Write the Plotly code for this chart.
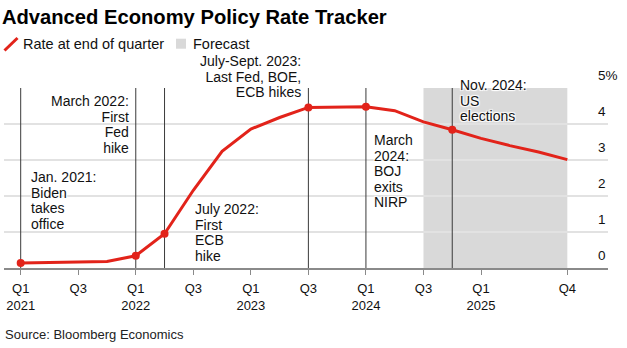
import plotly.graph_objects as go

# Quarterly policy-rate path (GDP-weighted advanced economies), %
quarters = [
    "Q1 2021", "Q2 2021", "Q3 2021", "Q4 2021",
    "Q1 2022", "Q2 2022", "Q3 2022", "Q4 2022",
    "Q1 2023", "Q2 2023", "Q3 2023", "Q4 2023",
    "Q1 2024", "Q2 2024", "Q3 2024", "Q4 2024",
    "Q1 2025", "Q2 2025", "Q3 2025", "Q4 2025",
]
rate = [
    0.14, 0.15, 0.16, 0.18,
    0.34, 0.95, 2.16, 3.24,
    3.86, 4.18, 4.46, 4.47,
    4.48, 4.37, 4.06, 3.84,
    3.60, 3.40, 3.22, 3.01,
]

forecast_start = "Q3 2024"
forecast_end = "Q4 2025"

event_quarters = ["Q1 2021", "Q1 2022", "Q2 2022", "Q3 2023", "Q1 2024", "Q4 2024"]
event_labels = [
    ["Jan. 2021:", "Biden", "takes", "office"],
    ["March 2022:", "First", "Fed", "hike"],
    ["July 2022:", "First", "ECB", "hike"],
    ["July-Sept. 2023:", "Last Fed, BOE,", "ECB hikes"],
    ["March", "2024:", "BOJ", "exits", "NIRP"],
    ["Nov. 2024:", "US", "elections"],
]

legend_names = ["Rate at end of quarter", "Forecast"]

x_tick_vals = ["Q1 2021", "Q3 2021", "Q1 2022", "Q3 2022", "Q1 2023",
               "Q3 2023", "Q1 2024", "Q3 2024", "Q1 2025", "Q4 2025"]
x_tick_text = ["Q1<br>2021", "Q3", "Q1<br>2022", "Q3", "Q1<br>2023",
               "Q3", "Q1<br>2024", "Q3", "Q1<br>2025", "Q4"]
y_tick_vals = [0, 1, 2, 3, 4, 5]
y_tick_text = ["0", "1", "2", "3", "4", "5%"]

RED = "#e2231a"
SHADE = "#d9d9d9"
FONT = "Liberation Sans, Arial, sans-serif"
INK = "#111111"
Y_TOP = 5

W, H = 627, 348
M = dict(l=4, r=19, t=88, b=80)
PW, PH = W - M["l"] - M["r"], H - M["t"] - M["b"]


def px(x):
    """Horizontal page pixel -> paper fraction."""
    return (x - M["l"]) / PW


def py(y):
    """Vertical page pixel (from top) -> paper fraction."""
    return (H - M["b"] - y) / PH


# Label placement for each event: anchor side, pixel offset from the event line, top of text (% units)
label_style = [
    ("left", 8, 2.80),
    ("right", -5, 4.92),
    ("left", 28, 1.93),
    ("right", -5, 6.03),
    ("left", 6, 3.82),
    ("left", 6, 5.36),
]

idx = {q: i for i, q in enumerate(quarters)}

fig = go.Figure()

# Main rate line
fig.add_trace(go.Scatter(
    x=quarters, y=rate, mode="lines",
    line=dict(color=RED, width=3),
    showlegend=False, hoverinfo="skip",
))

# Dots where the curve meets each event
fig.add_trace(go.Scatter(
    x=event_quarters, y=[rate[idx[q]] for q in event_quarters], mode="markers",
    marker=dict(color=RED, size=8),
    showlegend=False, hoverinfo="skip",
))

# Forecast band
fig.add_shape(
    type="rect", xref="x", yref="y",
    x0=idx[forecast_start], x1=idx[forecast_end], y0=0, y1=Y_TOP,
    fillcolor=SHADE, line=dict(width=0), layer="below",
)

# Event markers and their notes
halo = "1px 1px 1px #fff, -1px -1px 1px #fff, 1px -1px 1px #fff, -1px 1px 1px #fff"
for q, lines, (anchor, shift, ytop) in zip(event_quarters, event_labels, label_style):
    fig.add_shape(
        type="line", xref="x", yref="y",
        x0=idx[q], x1=idx[q], y0=0, y1=Y_TOP,
        line=dict(color="#3a3a3a", width=1), layer="between",
    )
    text = "<br>".join(f"<span style='font-size:14px'>{s}</span>" for s in lines)
    fig.add_annotation(
        x=idx[q], y=ytop / Y_TOP, xref="x", yref="paper",
        text=text, showarrow=False,
        xanchor=anchor, yanchor="top", align=anchor, xshift=shift,
        font=dict(family=FONT, size=12, color=INK, shadow=halo),
    )

# Compact key above the plot: red slash for the rate line, grey swatch for the forecast
fig.add_shape(
    type="line", xref="paper", yref="paper",
    x0=px(4.5), y0=py(50.5), x1=px(17.5), y1=py(38),
    line=dict(color=RED, width=3),
)
fig.add_shape(
    type="rect", xref="paper", yref="paper",
    x0=px(176), y0=py(48.7), x1=px(186), y1=py(38.7),
    fillcolor=SHADE, line=dict(width=0),
)
for name, x_left in zip(legend_names, [21, 191]):
    fig.add_annotation(
        x=px(x_left), y=py(44), xref="paper", yref="paper",
        text=name, showarrow=False, xanchor="left", yanchor="middle",
        font=dict(family=FONT, size=14.5, color=INK),
    )

fig.add_annotation(
    x=-0.002, y=-0.368, xref="paper", yref="paper",
    text="Source: Bloomberg Economics", showarrow=False,
    xanchor="left", yanchor="middle",
    font=dict(family=FONT, size=13, color="#222"),
)

fig.update_layout(
    width=W, height=H,
    margin=M,
    showlegend=False,
    paper_bgcolor="white", plot_bgcolor="white",
    font=dict(family=FONT, color=INK),
    title=dict(
        text="<b>Advanced Economy Policy Rate Tracker</b>",
        xref="container", yref="container", x=0.003, y=0.95,
        xanchor="left", yanchor="middle",
        font=dict(family=FONT, size=20.2, color="#000"),
    ),
    xaxis=dict(
        type="category", categoryorder="array", categoryarray=quarters,
        range=[-0.58, 20.414],
        tickmode="array", tickvals=x_tick_vals, ticktext=x_tick_text,
        ticks="outside", ticklen=5, tickwidth=1.2, tickcolor="#8a8a8a",
        showline=True, linecolor="#8a8a8a", linewidth=1.5,
        showgrid=False, zeroline=False, ticklabelstandoff=3,
        tickfont=dict(family=FONT, size=13, color=INK),
    ),
    yaxis=dict(
        range=[0, Y_TOP], side="right",
        tickmode="array", tickvals=y_tick_vals, ticktext=y_tick_text,
        showgrid=True, gridcolor="#e2e2e2", gridwidth=1.5,
        zeroline=False, showline=False, ticks="",
        ticklabelposition="outside", ticklabelstandoff=-11, ticklabelshift=-13,
        tickfont=dict(family=FONT, size=13.5, color=INK),
    ),
)

fig.write_html("out.html")
